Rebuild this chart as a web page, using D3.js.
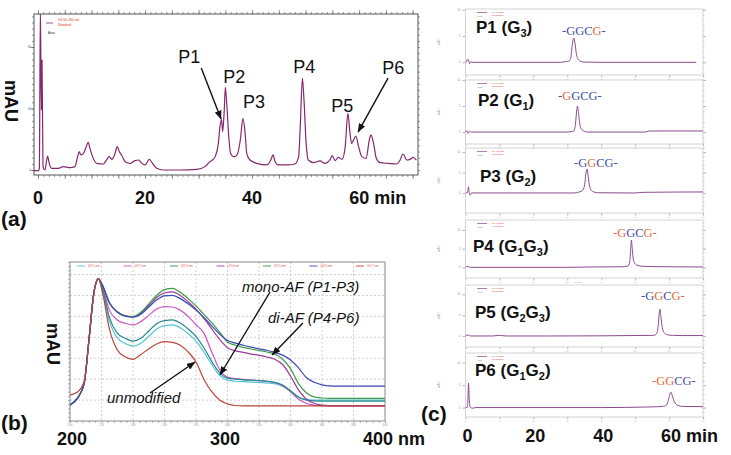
<!DOCTYPE html>
<html><head><meta charset="utf-8">
<script src="https://cdnjs.cloudflare.com/ajax/libs/d3/7.8.5/d3.min.js"></script>
<style>html,body{margin:0;padding:0;background:#fff;}svg{display:block;}</style>
</head><body>
<svg id="fig" width="731" height="455" xmlns="http://www.w3.org/2000/svg"></svg>
<script>
// ================= DATA =================
// (a) HPLC chromatogram (time in min, signal in mAU, arbitrary scale)
const hplcTime = [-0.75,0.07,0.25,0.44,0.62,0.75,0.93,1.3,1.62,1.8,2.1,2.55,3.8,4.7,5.98,6.9,7.4,7.7,8.0,8.5,9.0,9.4,9.7,10.2,10.97,12.2,12.8,13.3,13.8,14.4,14.8,15.2,15.6,16.3,17.2,18.1,18.8,19.4,20.0,20.8,21.4,22.2,23.4,26.5,29.7,31.2,32.1,32.6,33.1,33.7,34.0,34.3,34.5,34.8,35.0,35.3,35.6,36.0,36.5,36.8,37.3,37.8,38.3,38.7,39.0,39.6,40.9,42.7,43.5,43.9,44.3,44.9,46.5,48.0,48.7,49.0,49.4,49.7,50.1,50.5,51.5,52.7,53.6,54.6,55.0,55.5,56.1,56.8,57.4,57.9,58.3,58.6,59.1,59.4,59.9,60.5,61.3,61.9,62.2,62.7,63.2,63.9,65.4,67.0,67.6,68.2,68.9,69.5,70.1,70.7];
const hplcSignal = [-0.4,-0.4,1.1,105,39,71.5,2.2,0,6.5,9.1,4.3,1.1,1.1,2.2,1.5,2.2,8.7,11.9,9.8,10.8,15.2,18.0,14.1,8.7,4.3,3.9,6.5,8.7,6.9,10.8,15.2,11.9,9.8,5.4,4.3,6.1,6.5,4.3,3.3,6.9,4.3,1.1,0,0,0.4,2.2,5.4,6.5,8.7,17.3,28.2,33.0,24.9,39.0,53.8,41.2,23.8,10.8,8.7,8.7,10.8,19.5,33.6,23.8,10.8,6.5,4.3,3.3,6.5,9.8,5.4,3.3,3.3,3.9,8.7,28.2,59.6,45.5,17.3,6.5,4.8,5.9,4.3,6.9,9.3,6.1,8.2,6.9,15.2,36.9,23.8,17.3,20.6,22.1,15.2,8.7,7.6,19.5,22.8,17.3,7.6,4.8,4.3,3.9,6.1,10.4,6.5,6.9,8.2,6.5];
const hplcPeakNames = ["P1","P2","P3","P4","P5","P6"];
const hplcPeakLabelTime = [26.2,34.6,38.3,47.7,54.8,64.3];
const hplcPeakLabelSignal = [69.6,56.6,40.3,63.4,37.7,62.4];
const hplcArrowFrom = [[30.5,66.3],[65.4,59.8]];
const hplcArrowTo = [[34.2,33.2],[59.8,24.7]];
const timeTickValues = [0,20,40,60];
const timeTickLabels = ["0","20","40","60 min"];

// (b) UV spectra (wavelength in nm, absorbance in mAU, arbitrary scale)
const uvWavelength = [200,205,209,212,215,218,221,225,230,235,240,245,250,255,260,265,270,275,280,285,290,295,300,305,310,315,320,325,330,335,340,345,350,355,360,365,370,380,390,400];
const uvUnmodified = [124,140,190,380,600,679,600,440,340,307,295,318,345,368,379,376,362,330,282,200,140,100,82,74,72,72,72,72,72,72,72,72,72,72,72,72,72,72,72,72];
const uvGreen   = [77,112,180,385,605,679,642,565,522,503,499,520,560,600,628,634,615,585,550,510,470,425,378,362,352,344,337,330,320,295,250,180,135,115,110,108,108,108,108,108];
const uvBlue    = [77,112,180,385,605,679,642,565,520,501,496,510,545,578,598,600,585,560,530,495,455,415,385,372,362,353,345,338,328,315,292,255,208,185,173,168,167,167,167,167];
const uvPurple  = [77,112,180,385,605,679,642,565,522,503,498,515,552,590,612,617,600,570,535,490,440,390,350,335,328,320,314,306,295,270,215,150,105,85,76,73,72,72,72,72];
const uvMagenta = [77,112,180,385,605,679,630,530,483,467,459,475,505,535,547,545,530,500,460,420,330,245,210,203,199,196,193,190,183,168,140,105,85,76,73,72,72,72,72,72];
const uvTeal    = [77,112,180,385,605,679,622,495,420,395,382,395,430,465,480,483,468,440,405,350,285,230,205,200,197,195,193,190,185,172,145,115,100,96,95,95,95,95,95,95];
const uvCyan    = [77,112,180,385,605,679,615,480,397,371,358,372,405,440,456,459,446,418,382,330,270,218,195,190,188,186,184,182,178,165,140,115,103,100,100,100,100,100,100,100];
const uvTickValues = [200,300,400];
const uvTickLabels = ["200","300","400 nm"];
const uvNotes = ["mono-AF (P1-P3)","di-AF (P4-P6)","unmodified"];
const uvNoteAt = [[309.2,616.6],[325.7,468],[223.5,86]];
const uvArrowFrom = [[327,616.6],[347.9,468.5],[250.8,133.8]];
const uvArrowTo = [[295.2,219.9],[328.3,315.5],[279.4,282]];

// (c) HPLC of isolated fractions (time in min, signal in relative units)
const p1Time = [0,0.3,0.6,0.9,1.2,1.6,2.2,28,29.5,30.5,31.0,31.4,31.9,32.3,32.7,33.2,33.9,35,40,68];
const p1Signal = [0,0.02,0.12,0.08,-0.05,0.02,0,0,0.03,0.05,0.15,0.6,0.92,0.7,0.3,0.12,0.04,0.01,0,0];
const p2Time = [0,0.4,0.8,1.2,1.8,30,31.5,32.0,32.4,32.8,33.0,33.3,33.7,34.2,35,36,53,54,70];
const p2Signal = [0,0.05,-0.05,0.03,0,0,0.03,0.05,0.3,0.85,1.0,0.75,0.3,0.1,0.03,0,0,0.04,0.04];
const p3Time = [0,0.6,0.9,1.1,1.4,1.8,32,33.5,34.5,35.1,35.5,35.8,36.1,36.5,37,37.8,39,50,52,70];
const p3Signal = [0,0.02,0.3,0,-0.1,0,0,0.05,0.12,0.4,0.95,1.17,0.9,0.4,0.15,0.05,0.01,0,0.03,0.05];
const p4Time = [0,0.5,1,1.5,30,38,46,47.8,48.4,48.7,48.9,49.1,49.4,49.8,50.5,52,55,70];
const p4Signal = [0,0.06,0.02,0,0,0.02,0.03,0.06,0.3,1.0,1.46,1.1,0.5,0.25,0.12,0.06,0.04,0.02];
const p5Time = [0,0.8,1.5,8,10,12,25,55.5,56.3,56.8,57.1,57.3,57.6,58,58.6,59.5,61,64,70];
const p5Signal = [0,0.05,0,0,0.03,0,0,0.03,0.1,0.5,1.1,1.29,0.9,0.4,0.15,0.06,0.03,0.02,0.02];
const p6Time = [0,0.5,0.7,0.9,1.1,1.4,2,3,40,55,58,59.3,59.9,60.5,61.0,61.6,62.5,64,70];
const p6Signal = [0,0,0.3,1.09,0.4,0.02,-0.03,0,0,0.03,0.05,0.12,0.4,0.69,0.5,0.25,0.1,0.05,0.04];
const fracNames = ["P1","P2","P3","P4","P5","P6"];
const fracSites = [["3"],["1"],["2"],["1","3"],["2","3"],["1","2"]];
const fracSequence = "-GGCG-";
const fracModifiedChars = [[4],[1],[2],[0,1,4,5],[2,4,5],[0,1,2]];

// ================= LAYOUT / STYLE =================
const SANS = "'Liberation Sans', Arial, Helvetica, sans-serif";
const SERIF = "'Liberation Serif', 'Times New Roman', serif";
const svg = d3.select("#fig");
const defs = svg.append("defs");
defs.append("marker").attr("id","arr").attr("viewBox","0 0 10 8").attr("refX",9.5).attr("refY",4)
  .attr("markerWidth",9).attr("markerHeight",7).attr("markerUnits","userSpaceOnUse").attr("orient","auto")
  .append("path").attr("d","M0,0L10,4L0,8Z").attr("fill","#111");

function arrow(g,x1,y1,x2,y2){
  g.append("line").attr("x1",x1).attr("y1",y1).attr("x2",x2).attr("y2",y2)
   .attr("stroke","#111").attr("stroke-width",1.4).attr("marker-end","url(#arr)");
}
function ticks(g, axisFn, scale, values, size, transform, color){
  g.append("g").attr("transform",transform).attr("color",color)
   .call(axisFn(scale).tickValues(values).tickSize(size).tickFormat(""))
   .call(s=>s.select(".domain").remove())
   .call(s=>s.selectAll("line").attr("stroke-width",0.6));
}

// ---------- (a) ----------
const A = {l:34,r:418,t:14,b:175};
const ax = d3.scaleLinear().domain([-0.75,71]).range([A.l,A.r]);
const ay = d3.scaleLinear().domain([-3.25,101.5]).range([A.b,A.t]);
const ga = svg.append("g");
defs.append("clipPath").attr("id","clipA").append("rect").attr("x",A.l).attr("y",A.t).attr("width",A.r-A.l).attr("height",A.b-A.t);
ticks(ga,d3.axisBottom,ax,d3.range(0,71,1),2,`translate(0,${A.b})`,"#555");
ticks(ga,d3.axisBottom,ax,d3.range(0,71,5),4,`translate(0,${A.b})`,"#555");
ticks(ga,d3.axisTop,ax,d3.range(0,71,1),2,`translate(0,${A.t})`,"#555");
ticks(ga,d3.axisTop,ax,d3.range(0,71,5),4,`translate(0,${A.t})`,"#555");
ticks(ga,d3.axisLeft,ay,d3.range(0,101,4),2,`translate(${A.l},0)`,"#555");
ticks(ga,d3.axisLeft,ay,[0,40,80],4,`translate(${A.l},0)`,"#555");
ticks(ga,d3.axisRight,ay,d3.range(0,101,4),2,`translate(${A.r},0)`,"#555");
ga.append("rect").attr("x",A.l).attr("y",A.t).attr("width",A.r-A.l).attr("height",A.b-A.t)
  .attr("fill","none").attr("stroke","#555").attr("stroke-width",1);
[0,40,80].forEach(v=>ga.append("text").attr("x",A.l-3).attr("y",ay(v)+1).attr("text-anchor","end")
  .attr("font-family",SANS).attr("font-size",3).attr("fill","#5577aa").text(v));
const lineA = d3.line().x((d,i)=>ax(hplcTime[i])).y(d=>ay(d)).curve(d3.curveMonotoneX);
ga.append("path").datum(hplcSignal).attr("d",lineA).attr("clip-path","url(#clipA)")
  .attr("fill","none").attr("stroke","#86286f").attr("stroke-width",1.2);
// tiny legend
ga.append("line").attr("x1",46).attr("x2",53).attr("y1",23).attr("y2",23).attr("stroke","#86286f").attr("stroke-width",0.8);
ga.append("text").attr("x",58).attr("y",21).attr("font-family",SANS).attr("font-size",3.2).attr("fill","#e03020").text("UV-Vis 260 nm");
ga.append("text").attr("x",58).attr("y",26).attr("font-family",SANS).attr("font-size",3.2).attr("fill","#e03020").text("Standard");
ga.append("text").attr("x",48).attr("y",34).attr("font-family",SANS).attr("font-size",3.2).attr("fill","#222").text("Area");
// peak labels
hplcPeakNames.forEach((n,i)=>ga.append("text").attr("x",ax(hplcPeakLabelTime[i])).attr("y",ay(hplcPeakLabelSignal[i]))
  .attr("font-family",SANS).attr("font-size",18).attr("fill","#111").text(n));
hplcArrowFrom.forEach((f,i)=>arrow(ga,ax(f[0]),ay(f[1]),ax(hplcArrowTo[i][0]),ay(hplcArrowTo[i][1])));
// axis labels
timeTickValues.forEach((v,i)=>{
  const last = i===timeTickValues.length-1;
  ga.append("text").attr("x",last?ax(v)-10:ax(v)).attr("y",203.5).attr("text-anchor",last?"start":"middle")
    .attr("font-family",SANS).attr("font-weight","bold").attr("font-size",18).attr("fill","#111").text(timeTickLabels[i]);
});
ga.append("text").attr("transform","translate(5,101) rotate(90)").attr("text-anchor","middle")
  .attr("font-family",SANS).attr("font-weight","bold").attr("font-size",18).attr("fill","#111").text("mAU");
svg.append("text").attr("x",1).attr("y",226).attr("font-family",SANS).attr("font-weight","bold").attr("font-size",21).attr("fill","#111").text("(a)");

// ---------- (b) ----------
const B = {l:70,r:385,t:262,b:421};
const bx = d3.scaleLinear().domain([200,400]).range([B.l,B.r]);
const by = d3.scaleLinear().domain([0,760]).range([B.b,B.t]);
const gb = svg.append("g");
defs.append("clipPath").attr("id","clipB").append("rect").attr("x",B.l).attr("y",B.t).attr("width",B.r-B.l).attr("height",B.b-B.t);
d3.range(220,400,20).forEach(v=>gb.append("line").attr("x1",bx(v)).attr("x2",bx(v)).attr("y1",B.t).attr("y2",B.b)
  .attr("stroke","#bbb").attr("stroke-width",0.7).attr("stroke-dasharray","2,2"));
d3.range(100,760,100).forEach(v=>gb.append("line").attr("x1",B.l).attr("x2",B.r).attr("y1",by(v)).attr("y2",by(v))
  .attr("stroke","#bbb").attr("stroke-width",0.7).attr("stroke-dasharray","2,2"));
ticks(gb,d3.axisBottom,bx,d3.range(200,401,4),2,`translate(0,${B.b})`,"#777");
ticks(gb,d3.axisLeft,by,d3.range(0,761,20),2,`translate(${B.l},0)`,"#777");
gb.append("rect").attr("x",B.l).attr("y",B.t).attr("width",B.r-B.l).attr("height",B.b-B.t)
  .attr("fill","none").attr("stroke","#888").attr("stroke-width",1);
d3.range(200,401,20).forEach(v=>gb.append("text").attr("x",bx(v)).attr("y",B.b+5).attr("text-anchor","middle")
  .attr("font-family",SANS).attr("font-size",3).attr("fill","#999").text(v));
const uvSeries = [uvCyan,uvMagenta,uvTeal,uvPurple,uvGreen,uvBlue,uvUnmodified];
const uvColors = ["#54c6d2","#cc55c2","#25878f","#9b3a9c","#3b9a45","#3a49b5","#b8473a"];
const lineB = d3.line().x((d,i)=>bx(uvWavelength[i])).y(d=>by(d)).curve(d3.curveMonotoneX);
uvSeries.forEach((s,k)=>gb.append("path").datum(s).attr("d",lineB).attr("clip-path","url(#clipB)")
  .attr("fill","none").attr("stroke",uvColors[k]).attr("stroke-width",1.2));
// tiny legend
uvColors.forEach((c,k)=>{
  const x0 = 77 + k*46.5;
  gb.append("line").attr("x1",x0).attr("x2",x0+8).attr("y1",266).attr("y2",266).attr("stroke",c).attr("stroke-width",0.9);
  gb.append("text").attr("x",x0+11).attr("y",267).attr("font-family",SANS).attr("font-size",3).attr("fill","#e05050").text("UV "+(k+1)+" nm");
});
uvNotes.forEach((n,i)=>gb.append("text").attr("x",bx(uvNoteAt[i][0])).attr("y",by(uvNoteAt[i][1]))
  .attr("font-family",SANS).attr("font-style","italic").attr("font-size",15).attr("fill","#111").text(n));
uvArrowFrom.forEach((f,i)=>arrow(gb,bx(f[0]),by(f[1]),bx(uvArrowTo[i][0]),by(uvArrowTo[i][1])));
uvTickValues.forEach((v,i)=>{
  const last = i===uvTickValues.length-1;
  gb.append("text").attr("x",last?bx(v)-22:(i===0?bx(v)+2:bx(v)-2.5)).attr("y",445).attr("text-anchor",last?"start":"middle")
    .attr("font-family",SANS).attr("font-weight","bold").attr("font-size",18).attr("fill","#111").text(uvTickLabels[i]);
});
gb.append("text").attr("transform","translate(47,344) rotate(90)").attr("text-anchor","middle")
  .attr("font-family",SANS).attr("font-weight","bold").attr("font-size",18).attr("fill","#111").text("mAU");
svg.append("text").attr("x",1).attr("y",430).attr("font-family",SANS).attr("font-weight","bold").attr("font-size",21).attr("fill","#111").text("(b)");

// ---------- (c) ----------
const cx = d3.scaleLinear().domain([0,70]).range([465.5,703]);
const fracTimes = [p1Time,p2Time,p3Time,p4Time,p5Time,p6Time];
const fracSignals = [p1Signal,p2Signal,p3Signal,p4Signal,p5Signal,p6Signal];
const cPanels = [
  {t:9,  b:75,  dom:[-0.48,2.02], lab:[476,33],  seq:[562,35]},
  {t:80, b:144, dom:[-0.46,2.0],  lab:[478,106], seq:[558,100]},
  {t:148,b:213, dom:[-0.98,2.2],  lab:[480,182], seq:[574,167]},
  {t:220,b:278, dom:[-0.57,2.53], lab:[473,252], seq:[613,237]},
  {t:285,b:347, dom:[-0.53,2.45], lab:[475,318], seq:[641,300]},
  {t:353,b:417, dom:[-0.42,2.43], lab:[475,376], seq:[652,385]}
];
const gc = svg.append("g");
cPanels.forEach((p,k)=>{
  const cy = d3.scaleLinear().domain(p.dom).range([p.b,p.t]);
  const g = gc.append("g");
  defs.append("clipPath").attr("id","clipC"+k).append("rect").attr("x",cx(0)).attr("y",p.t).attr("width",cx(70)-cx(0)).attr("height",p.b-p.t);
  const major = [0,1,2].filter(v=>v>=p.dom[0]&&v<=p.dom[1]);
  ticks(g,d3.axisLeft,cy,major,3,`translate(${cx(0)},0)`,"#888");
  ticks(g,d3.axisRight,cy,major,3,`translate(${cx(70)},0)`,"#888");
  ticks(g,d3.axisRight,cy,d3.range(-1,2.6,0.2).filter(v=>v>=p.dom[0]&&v<=p.dom[1]),1.5,`translate(${cx(70)},0)`,"#aaa");
  ticks(g,d3.axisBottom,cx,d3.range(0,71,10),2.5,`translate(0,${p.b})`,"#888");
  g.append("rect").attr("x",cx(0)).attr("y",p.t).attr("width",cx(70)-cx(0)).attr("height",p.b-p.t)
    .attr("fill","none").attr("stroke","#c9c9c9").attr("stroke-width",0.8);
  major.forEach(v=>g.append("text").attr("x",cx(0)-5).attr("y",cy(v)+1).attr("text-anchor","end")
    .attr("font-family",SANS).attr("font-size",3).attr("fill","#999").text(v*5));
  d3.range(0,71,10).forEach(v=>g.append("text").attr("x",cx(v)).attr("y",p.b+4.5).attr("text-anchor","middle")
    .attr("font-family",SANS).attr("font-size",2.4).attr("fill","#aaa").text(v));
  g.append("text").attr("transform",`translate(440,${(p.t+p.b)/2}) rotate(-90)`).attr("text-anchor","middle")
    .attr("font-family",SANS).attr("font-size",3).attr("fill","#aaa").text("mAU");
  // tiny legend
  g.append("line").attr("x1",477).attr("x2",487).attr("y1",p.t+3.5).attr("y2",p.t+3.5).attr("stroke","#8a4b8d").attr("stroke-width",0.7);
  g.append("text").attr("x",492).attr("y",p.t+4.2).attr("font-family",SANS).attr("font-size",2.4).attr("fill","#e03020").text("UV-Vis 260");
  g.append("text").attr("x",492).attr("y",p.t+6.8).attr("font-family",SANS).attr("font-size",2.4).attr("fill","#e03020").text(fracNames[k]+" fraction");
  g.append("text").attr("x",477).attr("y",p.t+7.6).attr("font-family",SANS).attr("font-size",2.4).attr("fill","#666").text("Area");
  // trace
  const tt = fracTimes[k];
  const lineC = d3.line().x((d,i)=>cx(tt[i])).y(d=>cy(d)).curve(d3.curveMonotoneX);
  g.append("path").datum(fracSignals[k]).attr("d",lineC).attr("clip-path",`url(#clipC${k})`)
    .attr("fill","none").attr("stroke","#8a4b8d").attr("stroke-width",1.0);
  // label P (G..)
  const t = g.append("text").attr("x",p.lab[0]).attr("y",p.lab[1]).attr("font-family",SANS)
    .attr("font-weight","bold").attr("font-size",17).attr("fill","#111");
  t.append("tspan").text(fracNames[k]+" (");
  let sub=false;
  fracSites[k].forEach(s=>{
    t.append("tspan").attr("dy",sub?-4:0).text("G");
    t.append("tspan").attr("dy",4).attr("font-size",11).text(s);
    sub=true;
  });
  t.append("tspan").attr("dy",-4).text(")");
  // sequence
  const sq = g.append("text").attr("x",p.seq[0]).attr("y",p.seq[1]).attr("font-family",SERIF).attr("font-size",12.5);
  fracSequence.split("").forEach((ch,i)=>sq.append("tspan").text(ch)
    .attr("fill",fracModifiedChars[k].includes(i)?"#e4683d":"#3d4fa6"));
});
timeTickValues.forEach((v,i)=>{
  const last = i===timeTickValues.length-1;
  gc.append("text").attr("x",last?cx(v)-8:cx(v)+2).attr("y",441.5).attr("text-anchor",last?"start":"middle")
    .attr("font-family",SANS).attr("font-weight","bold").attr("font-size",18).attr("fill","#111").text(timeTickLabels[i]);
});
gc.append("text").attr("x",578).attr("y",282.5).attr("text-anchor","middle").attr("font-family",SANS).attr("font-size",2.4).attr("fill","#aaa").text("Minutes");
svg.append("text").attr("x",421).attr("y",421).attr("font-family",SANS).attr("font-weight","bold").attr("font-size",21).attr("fill","#111").text("(c)");
</script>
</body></html>
